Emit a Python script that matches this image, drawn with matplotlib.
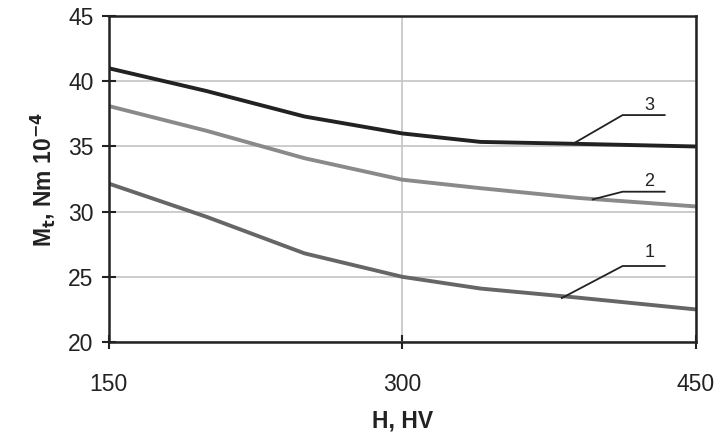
import matplotlib
matplotlib.use('Agg')
from matplotlib import pyplot as plt

plt.rcParams['font.family'] = ['Liberation Sans', 'DejaVu Sans']

hardness = [150, 200, 250, 300, 340, 390, 450]
curve1 = [32.15, 29.6, 26.8, 25.0, 24.1, 23.4, 22.5]
curve2 = [38.1, 36.2, 34.1, 32.45, 31.8, 31.05, 30.4]
curve3 = [41.0, 39.25, 37.3, 36.0, 35.35, 35.2, 35.0]

labels = ['1', '2', '3']
# leader lines: start on curve, bend point, end of horizontal, text position
leaders = [
    [(381.5, 23.37), (412.6, 25.83), (434.1, 25.83), (426.4, 26.83)],
    [(397.3, 30.94), (412.6, 31.53), (434.1, 31.53), (426.4, 32.29)],
    [(388.1, 35.28), (412.6, 37.41), (434.1, 37.41), (426.4, 38.17)],
]

fig = plt.figure(figsize=(7.21, 4.36), dpi=100)
ax = fig.add_axes([0.151, 0.2156, 0.814, 0.7474])

ax.plot(hardness, curve1, color='#666666', lw=2.8)
ax.plot(hardness, curve2, color='#8a8a8a', lw=2.8)
ax.plot(hardness, curve3, color='#222222', lw=2.8)

for lab, pts in zip(labels, leaders):
    xs = [p[0] for p in pts[:3]]
    ys = [p[1] for p in pts[:3]]
    ax.plot(xs, ys, color='#222222', lw=1.3)
    ax.text(pts[3][0], pts[3][1], lab, fontsize=13, ha='center', va='center', color='#222222')

ax.set_xlim(150, 450)
ax.set_ylim(20, 45)
ax.set_xticks([150, 300, 450])
ax.set_yticks(range(20, 46, 5))
ax.tick_params(direction='inout', length=10, width=1.5, labelsize=16.5, colors='#222222')
ax.tick_params(axis='x', pad=17)
ax.tick_params(axis='y', pad=6)
ax.grid(color='#c4c4c4', lw=1.2)
ax.set_axisbelow(True)
for s in ax.spines.values():
    s.set_linewidth(1.8)
    s.set_color('#222222')

ax.set_xlabel('H, HV', fontsize=16.5, fontweight='bold', labelpad=10, color='#222222')
ax.set_ylabel(r'M$_\mathbf{t}$, Nm 10$^{\mathbf{-4}}$', fontsize=16.5, fontweight='bold',
              labelpad=8, color='#222222')

fig.savefig('out.png', dpi=100)
